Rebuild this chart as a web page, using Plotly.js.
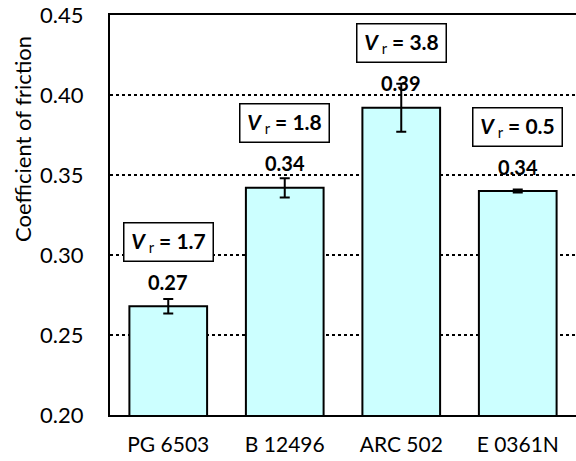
<!DOCTYPE html>
<html>
<head>
<meta charset="utf-8">
<script src="https://cdn.plot.ly/plotly-3.0.1.min.js"></script>
<style>html,body{margin:0;padding:0;background:#fff;}#chart{width:576px;height:461px;}</style>
</head>
<body>
<div id="chart"></div>
<script>
var categories = ["PG 6503", "B 12496", "ARC 502", "E 0361N"];
var frictionValues = [0.268, 0.342, 0.392, 0.340];
var errorValues = [0.0045, 0.006, 0.015, 0.001];
var valueLabels = ["0.27", "0.34", "0.39", "0.34"];
var vrValues = ["1.7", "1.8", "3.8", "0.5"];
var yTickValues = [0.20, 0.25, 0.30, 0.35, 0.40, 0.45];
var yTickLabels = ["0.20", "0.25", "0.30", "0.35", "0.40", "0.45"];

var FONT = "Lato, 'Open Sans', sans-serif";

var trace = {
  type: "bar",
  x: categories,
  y: frictionValues,
  width: 0.667,
  marker: {color: "#CCFFFF", line: {color: "#000", width: 2}},
  error_y: {type: "data", array: errorValues, visible: true, color: "#000", thickness: 2, width: 5},
  hoverinfo: "none"
};

// label height above bar tops (in data units) and Vr box centres
var valueLabelOffset = 0.0152;
var vrBoxY = [0.308, 0.3823, 0.4323, 0.3798];

var annotations = [];
for (var i = 0; i < categories.length; i++) {
  annotations.push({
    x: categories[i], y: frictionValues[i] + valueLabelOffset,
    xref: "x", yref: "y", text: "<b>" + valueLabels[i] + "</b>",
    showarrow: false, font: {family: FONT, size: 20, color: "#000"},
    xanchor: "center", yanchor: "middle"
  });
  annotations.push({
    x: categories[i], y: vrBoxY[i], xref: "x", yref: "y",
    text: "<b><i>V</i></b><sub> r</sub><b> = " + vrValues[i] + "</b>",
    showarrow: false, font: {family: FONT, size: 21, color: "#000"},
    bgcolor: "#fff", bordercolor: "#000", borderwidth: 1.5, borderpad: 5,
    width: 78, height: 27, xanchor: "center", yanchor: "middle"
  });
}
annotations.push({
  x: -0.189, y: 0.69, xref: "paper", yref: "paper", text: "Coefficient of friction",
  textangle: -90, showarrow: false, xanchor: "center", yanchor: "middle",
  font: {family: FONT, size: 22, color: "#000"}
});

var layout = {
  width: 576, height: 461,
  margin: {l: 110, r: 0, t: 15, b: 46, pad: 0},
  paper_bgcolor: "#fff", plot_bgcolor: "#fff",
  showlegend: false,
  xaxis: {
    type: "category", range: [-0.5, 3.5], showgrid: false, zeroline: false,
    showline: true, linecolor: "#000", linewidth: 2, mirror: true,
    ticks: "", ticklabelstandoff: 10,
    tickfont: {family: FONT, size: 21, color: "#000"}
  },
  yaxis: {
    range: [0.20, 0.45], tickvals: yTickValues, ticktext: yTickLabels,
    showgrid: true, gridcolor: "#000", gridwidth: 2, griddash: "3px,3px",
    zeroline: false, showline: true, linecolor: "#000", linewidth: 2,
    ticks: "", ticklabelstandoff: 20,
    tickfont: {family: FONT, size: 22, color: "#000"}
  },
  annotations: annotations
};

Plotly.newPlot("chart", [trace], layout, {displayModeBar: false, staticPlot: true});
</script>
</body>
</html>
